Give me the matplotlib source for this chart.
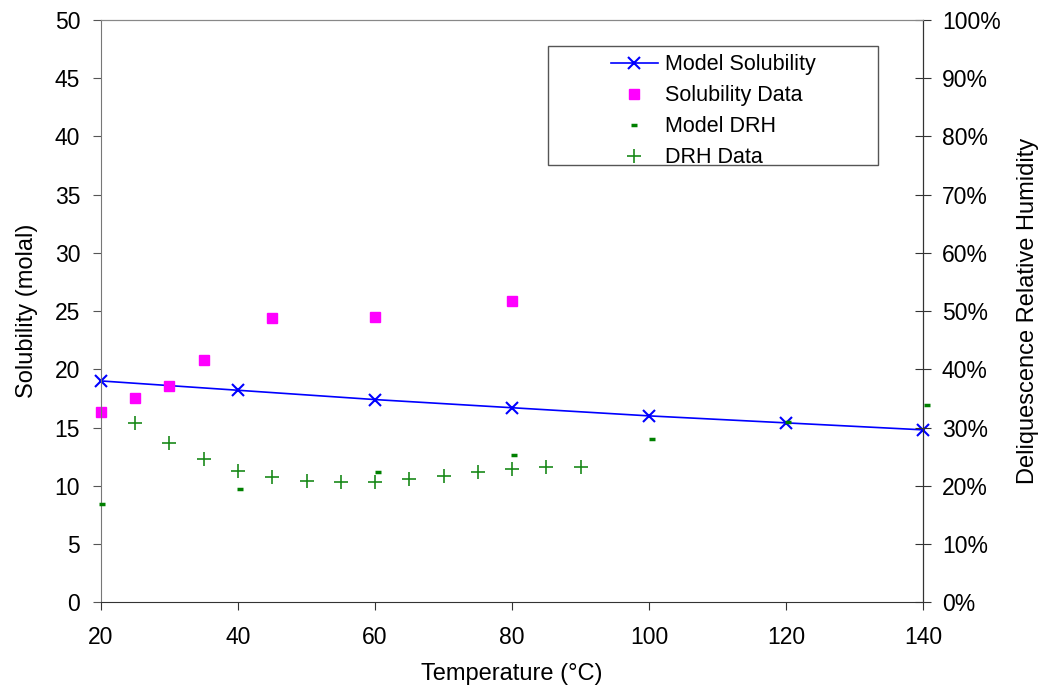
import matplotlib.pyplot as plt
from matplotlib.ticker import PercentFormatter
from matplotlib.patches import Rectangle

plt.rcParams['font.family'] = ['Liberation Sans', 'DejaVu Sans']

# Model solubility (molal)
model_t = [20, 40, 60, 80, 100, 120, 140]
model_sol = [19.0, 18.2, 17.4, 16.7, 16.0, 15.4, 14.8]

# Solubility data (molal)
sol_t = [20, 25, 30, 35, 45, 60, 80]
sol_data = [16.35, 17.5, 18.6, 20.8, 24.4, 24.5, 25.9]

# Model DRH (fraction)
mdrh_t = [20.2, 40.3, 60.4, 80.3, 100.4, 120.3, 140.6]
mdrh = [0.169, 0.195, 0.223, 0.253, 0.281, 0.309, 0.338]

# DRH data (fraction)
drh_t = [25, 30, 35, 40, 45, 50, 55, 60, 65, 70, 75, 80, 85, 90]
drh_data = [0.308, 0.273, 0.246, 0.226, 0.215, 0.208, 0.206, 0.207,
            0.212, 0.217, 0.223, 0.228, 0.232, 0.232]

fig = plt.figure(figsize=(10.42, 6.89), dpi=100)
ax = fig.add_axes([0.0969, 0.126, 0.789, 0.845])
ax2 = ax.twinx()

l1, = ax.plot(model_t, model_sol, color='blue', marker='x', markersize=8,
              markeredgewidth=1.5, linewidth=1.2, label='Model Solubility', clip_on=False)
l2, = ax.plot(sol_t, sol_data, linestyle='none', marker='s', markersize=7,
              color='#ff00ff', label='Solubility Data', clip_on=False)
l3, = ax2.plot(mdrh_t, mdrh, linestyle='none', marker='_', markersize=4.5,
               markeredgewidth=2.5, color='green', label='Model DRH', clip_on=False)
l4, = ax2.plot(drh_t, drh_data, linestyle='none', marker='+', markersize=10,
               markeredgewidth=1.2, color='#1a8a1a', label='DRH Data', clip_on=False)

ax.set_xlim(20, 140)
ax.set_ylim(0, 50)
ax2.set_ylim(0, 1)
ax.set_xticks(range(20, 141, 20))
ax.set_yticks(range(0, 51, 5))
ax2.set_yticks([i / 10 for i in range(11)])
ax2.yaxis.set_major_formatter(PercentFormatter(1.0, decimals=0))

ax.set_xlabel('Temperature (°C)', fontsize=17, labelpad=10)
ax.set_ylabel('Solubility (molal)', fontsize=17, labelpad=12)
ax2.set_ylabel('Deliquescence Relative Humidity', fontsize=17, labelpad=12)

ax.tick_params(axis='both', labelsize=16.5, direction='out', length=6, color='#555555')
ax.tick_params(axis='y', pad=9)
ax.tick_params(axis='x', pad=11, color='#333333')
ax2.tick_params(axis='y', labelsize=16.5, direction='inout', length=11, color='#333333', pad=8)

ax.spines['left'].set_color('#777777')
ax.spines['top'].set_color('#888888')
ax.spines['bottom'].set_color('#333333')
ax2.spines['right'].set_color('#333333')
ax2.spines['left'].set_visible(False)
ax2.spines['top'].set_color('#888888')
ax2.spines['bottom'].set_visible(False)

# legend frame drawn separately, legend itself frameless
ax2.add_patch(Rectangle((0.544, 0.751), 0.401, 0.204, transform=ax2.transAxes,
                        fill=True, facecolor='white', edgecolor='#555555',
                        linewidth=1.0, zorder=4))
leg = ax2.legend(handles=[l1, l2, l3, l4], loc='upper left',
                 bbox_to_anchor=(0.62, 0.941), fontsize=15.5, frameon=False,
                 borderpad=0, labelspacing=0.46, handlelength=2.2,
                 handletextpad=0.3, borderaxespad=0)
leg.set_zorder(5)

fig.savefig('out.png', dpi=100)
